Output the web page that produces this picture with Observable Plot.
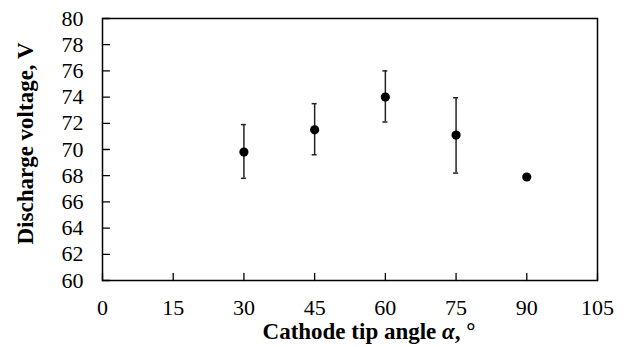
<!DOCTYPE html>
<html>
<head>
<meta charset="utf-8">
<script src="https://cdn.jsdelivr.net/npm/d3@7"></script>
<script src="https://cdn.jsdelivr.net/npm/@observablehq/plot@0.6"></script>
<style>
  html, body { margin: 0; padding: 0; background: #fff; }
  svg { display: block; }
</style>
</head>
<body>
<div id="chart"></div>
<script>
const angles  = [30, 45, 60, 75, 90];
const voltage = [69.8, 71.5, 74.0, 71.1, 67.9];
const errLow  = [67.8, 69.6, 72.1, 68.2, null];
const errHigh = [71.9, 73.5, 76.0, 73.95, null];
const xTicks = [0, 15, 30, 45, 60, 75, 90, 105];
const yTicks = [60, 62, 64, 66, 68, 70, 72, 74, 76, 78, 80];
const xTitle = "Cathode tip angle α, °";
const yTitle = "Discharge voltage, V";

const data = angles.map((a, i) => ({a, v: voltage[i], lo: errLow[i], hi: errHigh[i]}));
const errs = data.filter(d => d.lo != null);

const tickShape = {draw(context, l) { context.moveTo(0, 0); context.lineTo(0, -l); }};

const chart = Plot.plot({
  width: 627,
  height: 347,
  marginLeft: 102,
  marginRight: 30,
  marginTop: 18,
  marginBottom: 67,
  style: {fontFamily: "'Liberation Serif', 'Times New Roman', serif", fontSize: "22px", color: "#000", background: "#fff"},
  x: {domain: [0, 105]},
  y: {domain: [60, 80]},
  marks: [
    // inner tick marks
    Plot.vector(xTicks, {x: d => d, frameAnchor: "bottom", length: 7, rotate: 0, anchor: "start", shape: tickShape, stroke: "#000", strokeWidth: 1.3}),
    Plot.vector(yTicks, {y: d => d, frameAnchor: "left", length: 7, rotate: 90, anchor: "start", shape: tickShape, stroke: "#000", strokeWidth: 1.3}),
    // tick labels
    Plot.axisX({ticks: xTicks, tickSize: 0, tickPadding: 19, label: null, fill: "#000", fontSize: 22}),
    Plot.axisY({ticks: yTicks, tickSize: 0, tickPadding: 19, label: null, fill: "#000", fontSize: 22}),
    Plot.frame({stroke: "#000", strokeWidth: 1.5}),
    // error bars
    Plot.ruleX(errs, {x: "a", y1: "lo", y2: "hi", stroke: "#222", strokeWidth: 1.5}),
    Plot.ruleY(errs, {y: "lo", x1: "a", x2: "a", insetLeft: -2.5, insetRight: -2.5, stroke: "#222", strokeWidth: 1.5}),
    Plot.ruleY(errs, {y: "hi", x1: "a", x2: "a", insetLeft: -2.5, insetRight: -2.5, stroke: "#222", strokeWidth: 1.5}),
    Plot.dot(data, {x: "a", y: "v", r: 4.6, fill: "#000", stroke: "none"}),
    // axis titles
    Plot.text([xTitle], {frameAnchor: "bottom", dy: 58, dx: 19, text: d => d, fontWeight: "bold", fontSize: 23, fill: "#000", textAnchor: "middle", lineAnchor: "bottom"}),
    Plot.text([yTitle], {frameAnchor: "left", dx: -77, dy: -6, rotate: -90, text: d => d, fontWeight: "bold", fontSize: 23, fill: "#000", textAnchor: "middle", lineAnchor: "middle"})
  ]
});

document.getElementById("chart").appendChild(chart);

// italicize alpha in x title
chart.querySelectorAll("text").forEach(t => {
  if (t.textContent === xTitle) {
    t.textContent = "";
    const ns = "http://www.w3.org/2000/svg";
    const parts = [["Cathode tip angle ", null], ["α", "italic"], [", ", null], ["°", null]];
    for (const [s, st] of parts) {
      const ts = document.createElementNS(ns, "tspan");
      ts.textContent = s;
      if (st) ts.setAttribute("font-style", st);
      t.appendChild(ts);
    }
  }
});
</script>
</body>
</html>
